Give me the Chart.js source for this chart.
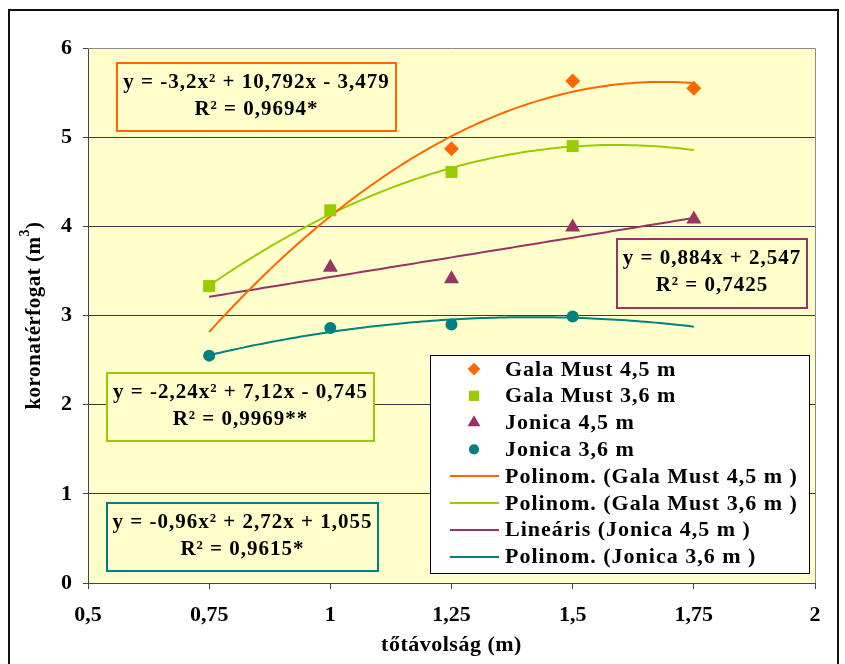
<!DOCTYPE html>
<html>
<head>
<meta charset="utf-8">
<script src="https://cdn.jsdelivr.net/npm/chart.js@4.4.1/dist/chart.umd.min.js"></script>
<style>
  html, body { margin: 0; padding: 0; background: #fff; }
  canvas { display: block; }
</style>
</head>
<body>
<canvas id="c" width="845" height="664"></canvas>
<script>
const FONT = '"Liberation Serif", "Times New Roman", serif';

// axis ticks
const xTickValues = [0.5, 0.75, 1, 1.25, 1.5, 1.75, 2];
const yTickValues = [0, 1, 2, 3, 4, 5, 6];

// measured points
const seriesNames = ['Gala Must 4,5 m', 'Gala Must 3,6 m', 'Jonica 4,5 m', 'Jonica 3,6 m'];
const galaMust45X = [1.25, 1.5, 1.75];
const galaMust45Y = [4.87, 5.63, 5.55];
const galaMust36X = [0.75, 1, 1.25, 1.5];
const galaMust36Y = [3.33, 4.18, 4.61, 4.90];
const jonica45X = [1, 1.25, 1.5, 1.75];
const jonica45Y = [3.54, 3.41, 3.99, 4.08];
const jonica36X = [0.75, 1, 1.25, 1.5];
const jonica36Y = [2.55, 2.86, 2.90, 2.99];

// fitted trend lines: coefficients [x², x, constant]
const trendNames = ['Polinom. (Gala Must 4,5 m )', 'Polinom. (Gala Must 3,6 m )', 'Lineáris (Jonica 4,5 m )', 'Polinom. (Jonica 3,6 m )'];
const trendGala45 = [-3.2, 10.792, -3.479];
const trendGala36 = [-2.24, 7.12, -0.745];
const trendJonica45 = [0, 0.884, 2.547];
const trendJonica36 = [-0.96, 2.72, 1.055];
const trendRange = [0.75, 1.75];

// equation labels
const eqGala45 = ['y = -3,2x² + 10,792x - 3,479', 'R² = 0,9694*'];
const eqGala36 = ['y = -2,24x² + 7,12x - 0,745', 'R² = 0,9969**'];
const eqJonica45 = ['y = 0,884x + 2,547', 'R² = 0,7425'];
const eqJonica36 = ['y = -0,96x² + 2,72x + 1,055', 'R² = 0,9615*'];

const COLORS = { gala45: '#FF6600', gala36: '#99CC00', jon45: '#993366', jon36: '#008080' };

function pts(xs, ys) { return xs.map((x, i) => ({ x, y: ys[i] })); }
function trend(c) {
  const out = [];
  const n = 100;
  for (let i = 0; i <= n; i++) {
    const x = trendRange[0] + (trendRange[1] - trendRange[0]) * i / n;
    out.push({ x, y: c[0] * x * x + c[1] * x + c[2] });
  }
  return out;
}
const comma = v => String(v).replace('.', ',');

const markerSets = [
  { label: seriesNames[0], data: pts(galaMust45X, galaMust45Y), color: COLORS.gala45, style: 'rectRot', r: 7.5 },
  { label: seriesNames[1], data: pts(galaMust36X, galaMust36Y), color: COLORS.gala36, style: 'rect', r: 8.5 },
  { label: seriesNames[2], data: pts(jonica45X, jonica45Y), color: COLORS.jon45, style: 'triangle', r: 8.7 },
  { label: seriesNames[3], data: pts(jonica36X, jonica36Y), color: COLORS.jon36, style: 'circle', r: 6 }
];
const trendSets = [
  { label: trendNames[0], data: trend(trendGala45), color: COLORS.gala45 },
  { label: trendNames[1], data: trend(trendGala36), color: COLORS.gala36 },
  { label: trendNames[2], data: trend(trendJonica45), color: COLORS.jon45 },
  { label: trendNames[3], data: trend(trendJonica36), color: COLORS.jon36 }
];

const datasets = [
  ...trendSets.map(s => ({
    label: s.label, data: s.data, showLine: true, borderColor: s.color, borderWidth: 2,
    pointRadius: 0, pointHoverRadius: 0, fill: false, order: 2
  })),
  ...markerSets.map(s => ({
    label: s.label, data: s.data, showLine: false, pointStyle: s.style, pointRadius: s.r,
    backgroundColor: s.color, borderColor: s.color, borderWidth: 0, order: 1
  }))
];

const eqBoxes = [
  { lines: eqGala45, color: COLORS.gala45, x: 117, y: 63, w: 279, h: 68 },
  { lines: eqGala36, color: COLORS.gala36, x: 107, y: 373, w: 267, h: 68 },
  { lines: eqJonica36, color: COLORS.jon36, x: 107, y: 503, w: 271, h: 68 },
  { lines: eqJonica45, color: COLORS.jon45, x: 617, y: 239, w: 190, h: 69 }
];
const legendBox = { x: 430, y: 355, w: 379, h: 218, rowTop: 369, rowStep: 26.8, markX: 474, lineX0: 450, lineX1: 499, textX: 505 };

const decorations = {
  id: 'decorations',
  beforeDraw(chart) {
    const { ctx, chartArea: a } = chart;
    ctx.save();
    ctx.fillStyle = '#ffffff';
    ctx.fillRect(0, 0, chart.width, chart.height);
    ctx.fillStyle = '#FFFFCC';
    ctx.fillRect(a.left, a.top, a.right - a.left, a.bottom - a.top);
    ctx.restore();
  },
  afterDraw(chart) {
    const { ctx, chartArea: a } = chart;
    ctx.save();
    // plot frame (top and right)
    ctx.strokeStyle = '#8a8a8a';
    ctx.lineWidth = 1;
    ctx.beginPath();
    ctx.moveTo(a.left, Math.round(a.top) + 0.5);
    ctx.lineTo(Math.round(a.right) + 0.5, Math.round(a.top) + 0.5);
    ctx.lineTo(Math.round(a.right) + 0.5, a.bottom);
    ctx.stroke();

    // outer chart frame
    ctx.strokeStyle = '#111';
    ctx.lineWidth = 2;
    ctx.beginPath();
    ctx.moveTo(9, 700);
    ctx.lineTo(9, 10);
    ctx.lineTo(838, 10);
    ctx.lineTo(838, 700);
    ctx.stroke();

    // equation boxes
    ctx.letterSpacing = '1px';
    ctx.font = 'bold 21px ' + FONT;
    ctx.textAlign = 'center';
    ctx.textBaseline = 'middle';
    eqBoxes.forEach(b => {
      ctx.fillStyle = '#FFFFCC';
      ctx.fillRect(b.x, b.y, b.w, b.h);
      ctx.strokeStyle = b.color;
      ctx.lineWidth = 2;
      ctx.strokeRect(b.x, b.y, b.w, b.h);
      ctx.fillStyle = '#000';
      b.lines.forEach((t, i) => ctx.fillText(t, b.x + b.w / 2, b.y + 20 + i * 27));
    });

    // legend
    const L = legendBox;
    ctx.fillStyle = '#fff';
    ctx.fillRect(L.x, L.y, L.w, L.h);
    ctx.strokeStyle = '#000';
    ctx.lineWidth = 1;
    ctx.strokeRect(L.x + 0.5, L.y + 0.5, L.w, L.h);
    ctx.font = 'bold 22px ' + FONT;
    ctx.textAlign = 'left';
    ctx.textBaseline = 'middle';
    markerSets.forEach((s, i) => {
      const y = L.rowTop + i * L.rowStep;
      ctx.fillStyle = s.color;
      Chart.helpers.drawPoint(ctx, { pointStyle: s.style, radius: s.r * 0.85, borderWidth: 0 }, L.markX, y);
      ctx.fillStyle = '#000';
      ctx.fillText(s.label, L.textX, y + 1);
    });
    trendSets.forEach((s, j) => {
      const y = L.rowTop + (j + 4) * L.rowStep;
      ctx.strokeStyle = s.color;
      ctx.lineWidth = 2;
      ctx.beginPath();
      ctx.moveTo(L.lineX0, Math.round(y));
      ctx.lineTo(L.lineX1, Math.round(y));
      ctx.stroke();
      ctx.fillStyle = '#000';
      ctx.fillText(s.label, L.textX, y + 1);
    });

    // axis titles
    ctx.letterSpacing = '0.5px';
    ctx.fillStyle = '#000';
    ctx.font = 'bold 22px ' + FONT;
    ctx.textAlign = 'center';
    ctx.textBaseline = 'middle';
    ctx.fillText('tőtávolság (m)', (a.left + a.right) / 2, 645);

    ctx.translate(35, (a.top + a.bottom) / 2);
    ctx.rotate(-Math.PI / 2);
    const main = 'koronatérfogat (m';
    const sup = '3';
    const close = ')';
    ctx.font = 'bold 21px ' + FONT;
    const wMain = ctx.measureText(main).width;
    const wClose = ctx.measureText(close).width;
    ctx.font = 'bold 14px ' + FONT;
    const wSup = ctx.measureText(sup).width;
    const total = wMain + wSup + wClose;
    let x = -total / 2;
    ctx.textAlign = 'left';
    ctx.font = 'bold 21px ' + FONT;
    ctx.fillText(main, x, 0);
    x += wMain;
    ctx.font = 'bold 14px ' + FONT;
    ctx.fillText(sup, x, -10);
    x += wSup;
    ctx.font = 'bold 21px ' + FONT;
    ctx.fillText(close, x, 0);
    ctx.restore();
  }
};

new Chart(document.getElementById('c'), {
  type: 'scatter',
  data: { datasets },
  options: {
    responsive: false,
    animation: false,
    events: [],
    layout: { padding: { left: 10, right: 30, top: 48, bottom: 0 } },
    plugins: { legend: { display: false }, tooltip: { enabled: false } },
    scales: {
      x: {
        type: 'linear', min: 0.5, max: 2,
        afterBuildTicks: s => { s.ticks = xTickValues.map(v => ({ value: v })); },
        afterFit: s => { s.height = 81; },
        grid: { drawOnChartArea: false, drawTicks: true, tickLength: 6, color: '#444', lineWidth: 1 },
        border: { display: true, color: '#444', width: 1 },
        ticks: { color: '#000', font: { family: FONT, size: 22, weight: 'bold' }, padding: 13, maxRotation: 0, callback: v => comma(v) }
      },
      y: {
        type: 'linear', min: 0, max: 6,
        afterBuildTicks: s => { s.ticks = yTickValues.map(v => ({ value: v })); },
        afterFit: s => { s.width = 78; },
        grid: {
          drawOnChartArea: true, drawTicks: true, tickLength: 5, lineWidth: 1,
          color: ctx => (ctx.tick && (ctx.tick.value === 0 || ctx.tick.value === 6)) ? 'rgba(0,0,0,0)' : '#3a3a3a',
          tickColor: '#444'
        },
        border: { display: true, color: '#444', width: 1 },
        ticks: { color: '#000', font: { family: FONT, size: 22, weight: 'bold' }, padding: 11, callback: v => comma(v) }
      }
    }
  },
  plugins: [decorations]
});
</script>
</body>
</html>
